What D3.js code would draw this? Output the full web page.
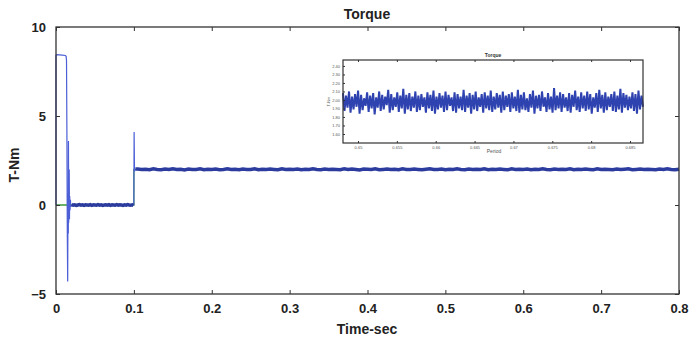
<!DOCTYPE html>
<html>
<head>
<meta charset="utf-8">
<script src="https://cdn.jsdelivr.net/npm/d3@7"></script>
<style>
  body { margin: 0; background: #fff; }
  text { font-family: "Liberation Sans", Arial, sans-serif; }
</style>
</head>
<body>
<svg id="chart" width="691" height="341"></svg>
<script>
// start-up transient (time in s, torque in N-m)
var startTime   = [0, 0, 0.001, 0.008, 0.012, 0.013, 0.0135, 0.014, 0.0145, 0.015, 0.0152, 0.0155, 0.0158, 0.016, 0.0163, 0.0166, 0.017, 0.0173, 0.0176, 0.018, 0.0185, 0.019, 0.02]
var startTorque = [0, 8.4, 8.45, 8.42, 8.4, 8.35, 8.1, 4.0, -1.5, -4.3, -2.0, 0.6, -1.6, 3.6, -1.0, 0.8, 2.0, -0.8, 0.5, -0.3, 0.3, -0.1, 0.02]

// no-load part, 0.02 .. 0.098 every 0.002
var idleTorque = [0.02,-0.01,0.01,-0.02,0.00,0.02,-0.01,0.01,-0.02,0.01,
                  0.00,-0.01,0.02,-0.02,0.01,0.00,-0.01,0.02,-0.01,0.01,
                  -0.02,0.00,0.01,-0.01,0.02,-0.02,0.01,0.00,-0.01,0.02,
                  -0.01,0.01,0.00,-0.02,0.01,-0.01,0.02,0.00,-0.01,0.01]

// load step at 0.1 s
var stepTime   = [0.0995, 0.1, 0.1, 0.1003, 0.1008, 0.102]
var stepTorque = [-0.02, 0.0, 0.5, 4.1, 1.9, 2.02]

// loaded part, 0.105 .. 0.80 every 0.005
var loadTorque = [2.02,1.99,2.01,1.98,2.03,2.00,1.98,2.02,1.99,2.04,
                  1.99,2.01,1.97,2.02,2.00,1.99,2.03,1.98,2.01,2.00,
                  2.02,1.98,2.00,2.03,1.99,2.01,1.98,2.02,2.00,1.99,
                  2.04,1.98,2.01,1.99,2.02,2.00,1.98,2.03,1.99,2.01,
                  2.00,2.02,1.98,2.01,1.99,2.03,2.00,1.98,2.02,1.99,
                  2.01,2.00,1.98,2.03,1.99,2.02,2.00,1.97,2.02,2.01,
                  1.99,2.03,1.98,2.00,2.02,1.99,2.01,1.98,2.03,2.00,
                  1.99,2.02,2.00,1.98,2.01,2.03,1.99,2.00,2.02,1.98,
                  2.01,1.99,2.03,2.00,1.98,2.02,1.99,2.01,2.00,2.03,
                  1.98,2.01,1.99,2.02,2.00,1.98,2.03,1.99,2.01,2.00,
                  2.02,1.98,2.01,1.99,2.03,2.00,1.98,2.02,1.99,2.01,
                  2.00,2.03,1.98,2.01,1.99,2.02,2.00,1.98,2.03,1.99,
                  2.01,2.00,1.98,2.02,1.99,2.01,2.03,1.98,2.00,2.02,
                  1.99,2.01,2.00,1.98,2.02,1.99,2.03,2.00,1.98,2.01]

// reference torque (green)
var refTime   = [0, 0.1, 0.1, 0.8]
var refTorque = [0, 0, 2, 2]

var xTicks = [0, 0.1, 0.2, 0.3, 0.4, 0.5, 0.6, 0.7, 0.8]
var yTicks = [-5, 0, 5, 10]

// zoomed inset
var insetTorque = [2.08,1.87,2.05,1.91,2.10,1.85,2.04,1.89,2.07,1.92,
                   2.11,1.84,2.06,1.88,2.02,1.93,2.09,1.86,2.05,1.90,
                   2.08,1.83,2.03,1.91,2.10,1.87,2.06,1.89,2.04,1.94,
                   2.12,1.85,2.07,1.88,2.03,1.92,2.09,1.86,2.05,1.90,
                   2.13,1.84,2.06,1.89,2.08,1.87,2.04,1.91,2.10,1.86,
                   2.05,1.88,2.07,1.92,2.03,1.85,2.09,1.90,2.06,1.87,
                   2.11,1.84,2.04,1.89,2.08,1.91,2.05,1.86,2.10,1.88,
                   2.06,1.93,2.03,1.87,2.09,1.85,2.07,1.90,2.04,1.88,
                   2.12,1.86,2.05,1.91,2.08,1.84,2.06,1.89,2.10,1.87,
                   2.03,1.92,2.07,1.85,2.09,1.90,2.05,1.88,2.11,1.86,
                   2.04,1.89,2.08,1.91,2.06,1.85,2.10,1.88,2.05,1.92,
                   2.07,1.86,2.09,1.90,2.04,1.87,2.12,1.85,2.06,1.89,
                   2.09,1.88,2.02,1.86,2.07,1.91,2.11,1.84,2.05,1.90,
                   2.06,1.87,2.10,1.92,2.03,1.86,2.08,1.89,2.04,1.85,
                   2.14,1.88,2.05,1.90,2.09,1.86,2.07,1.91,2.03,1.87,
                   2.08,1.85,2.06,1.92,2.11,1.88,2.04,1.86,2.09,1.90,
                   2.05,1.87,2.10,1.89,2.07,1.84,2.03,1.91,2.08,1.86,
                   2.12,1.90,2.06,1.85,2.09,1.88,2.04,1.92,2.07,1.87,
                   2.10,1.86,2.05,1.89,2.13,1.85,2.08,1.91,2.06,1.88,
                   2.04,1.90,2.09,1.87,2.07,1.84,2.11,1.89,2.05,1.92]
var insetXTicks = [0.65, 0.655, 0.66, 0.665, 0.67, 0.675, 0.68, 0.685]
var insetYTicks = [1.6, 1.7, 1.8, 1.9, 2, 2.1, 2.2, 2.3, 2.4]

var svg = d3.select("#chart")
var margin = {top: 27, right: 12, bottom: 47, left: 56}
var width = 691 - margin.left - margin.right
var height = 341 - margin.top - margin.bottom

var g = svg.append("g").attr("transform", "translate(" + margin.left + "," + margin.top + ")")

var x = d3.scaleLinear().domain([0, 0.8]).range([0, width])
var y = d3.scaleLinear().domain([-5, 10]).range([height, 0])

var line = d3.line().x(d => x(d[0])).y(d => y(d[1]))

// green reference
g.append("path")
    .datum(refTime.map((t, i) => [t, refTorque[i]]))
    .attr("fill", "none").attr("stroke", "#3a9a3a").attr("stroke-width", 1.3)
    .attr("d", line)

// transient + step (thin, lighter blue)
g.append("path")
    .datum(startTime.map((t, i) => [t, startTorque[i]]))
    .attr("fill", "none").attr("stroke", "#4c5fd6").attr("stroke-width", 1.2)
    .attr("d", line)
g.append("path")
    .datum(stepTime.map((t, i) => [t, stepTorque[i]]))
    .attr("fill", "none").attr("stroke", "#4c5fd6").attr("stroke-width", 1.2)
    .attr("d", line)

// noisy bands (thick, dark blue)
var idle = [[0.02, 0.02]].concat(idleTorque.map((v, i) => [0.02 + i * 0.002, v]))
idle.push([0.0995, -0.02])
g.append("path")
    .datum(idle)
    .attr("fill", "none").attr("stroke", "#2c3c9e").attr("stroke-width", 3.5)
    .attr("d", line)

var load = [[0.102, 2.02]].concat(loadTorque.map((v, i) => [0.105 + i * 0.005, v]))
g.append("path")
    .datum(load)
    .attr("fill", "none").attr("stroke", "#2c3c9e").attr("stroke-width", 3.5)
    .attr("d", line)

// box + axes with inward ticks
g.append("rect").attr("width", width).attr("height", height)
    .attr("fill", "none").attr("stroke", "#333").attr("stroke-width", 1.3)

g.append("g").attr("transform", "translate(0," + height + ")")
    .call(d3.axisBottom(x).tickValues(xTicks).tickSizeInner(-4).tickSizeOuter(0).tickPadding(10)
        .tickFormat(d => d === 0 ? "0" : d3.format(".1f")(d)))
g.append("g")
    .call(d3.axisTop(x).tickValues(xTicks).tickSizeInner(-4).tickSizeOuter(0).tickFormat(""))
g.append("g")
    .call(d3.axisLeft(y).tickValues(yTicks).tickSizeInner(-4).tickSizeOuter(0).tickPadding(10))
g.append("g").attr("transform", "translate(" + width + ",0)")
    .call(d3.axisRight(y).tickValues(yTicks).tickSizeInner(-4).tickSizeOuter(0).tickFormat(""))

g.selectAll(".domain").remove()
g.selectAll(".tick line").attr("stroke", "#333")
g.selectAll(".tick text").attr("font-size", 13).attr("font-weight", "bold").attr("fill", "#222")

// titles
svg.append("text").attr("x", 367).attr("y", 19).attr("text-anchor", "middle")
    .attr("font-size", 14).attr("font-weight", "bold").attr("fill", "#222").text("Torque")
svg.append("text").attr("x", 367).attr("y", 334).attr("text-anchor", "middle")
    .attr("font-size", 14).attr("font-weight", "bold").attr("fill", "#222").text("Time-sec")
svg.append("text").attr("transform", "translate(19,165) rotate(-90)").attr("text-anchor", "middle")
    .attr("font-size", 14).attr("font-weight", "bold").attr("fill", "#222").text("T-Nm")

// inset
var inset = {left: 343, top: 60, width: 300, height: 83}
var ig = svg.append("g").attr("transform", "translate(" + inset.left + "," + inset.top + ")")
ig.append("rect").attr("width", inset.width).attr("height", inset.height).attr("fill", "#fff")

var ix = d3.scaleLinear().domain([0.64807, 0.68667]).range([0, inset.width])
var iy = d3.scaleLinear().domain([1.494, 2.47]).range([inset.height, 0])
var insetStep = (0.68667 - 0.64807) / (insetTorque.length - 1)

ig.append("path")
    .datum(insetTorque.map((v, i) => [0.64807 + i * insetStep, v]))
    .attr("fill", "none").attr("stroke", "#2f43b0").attr("stroke-width", 2)
    .attr("d", d3.line().x(d => ix(d[0])).y(d => iy(d[1])))

ig.append("rect").attr("width", inset.width).attr("height", inset.height)
    .attr("fill", "none").attr("stroke", "#333").attr("stroke-width", 1.2)

ig.append("g").attr("transform", "translate(0," + inset.height + ")")
    .call(d3.axisBottom(ix).tickValues(insetXTicks).tickSizeInner(-2).tickSizeOuter(0).tickPadding(3)
        .tickFormat(d3.format(".3~f")))
ig.append("g")
    .call(d3.axisTop(ix).tickValues(insetXTicks).tickSizeInner(-2).tickSizeOuter(0).tickFormat(""))
ig.append("g")
    .call(d3.axisLeft(iy).tickValues(insetYTicks).tickSizeInner(-2).tickSizeOuter(0).tickPadding(3)
        .tickFormat(d3.format(".2f")))
ig.selectAll(".domain").remove()
ig.selectAll(".tick line").attr("stroke", "#333")
ig.selectAll(".tick text").attr("font-size", 4).attr("fill", "#555")

ig.append("text").attr("x", inset.width / 2).attr("y", -3).attr("text-anchor", "middle")
    .attr("font-size", 5).attr("font-weight", "bold").attr("fill", "#333").text("Torque")
ig.append("text").attr("x", 151).attr("y", inset.height + 10).attr("text-anchor", "middle")
    .attr("font-size", 5).attr("fill", "#555").text("Period")
ig.append("text").attr("transform", "translate(-13," + (inset.height / 2) + ") rotate(-90)")
    .attr("text-anchor", "middle").attr("font-size", 4).attr("fill", "#555").text("T-Nm")
</script>
</body>
</html>
